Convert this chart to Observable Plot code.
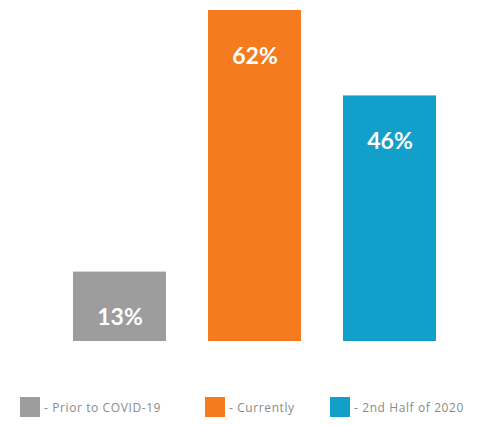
<!DOCTYPE html>
<html>
<head>
<meta charset="utf-8">
<script src="https://cdn.jsdelivr.net/npm/d3@7"></script>
<script src="https://cdn.jsdelivr.net/npm/@observablehq/plot@0.6"></script>
<style>
  html, body { margin: 0; padding: 0; background: #fff; }
  #wrap { position: relative; width: 492px; height: 425px; }
  #legend { position: absolute; left: 0; top: 397px; width: 492px; height: 20px; font-family: "Open Sans", sans-serif; font-size: 12px; letter-spacing: 0.6px; color: #8a8a8a; }
  .item { position: absolute; top: 0; display: flex; align-items: center; height: 20px; white-space: nowrap; }
  .sw { width: 20px; height: 20px; margin-right: 4px; }
</style>
</head>
<body>
<div id="wrap">
  <div id="chart"></div>
  <div id="legend"></div>
</div>
<script>
const categories = ["Prior to COVID-19", "Currently", "2nd Half of 2020"];
const values = [13, 62, 46];
const labels = ["13%", "62%", "46%"];
const colors = ["#9d9d9d", "#f47b20", "#129fca"];
const legendLabels = ["- Prior to COVID-19", "- Currently", "- 2nd Half of 2020"];

const data = categories.map((c, i) => ({category: c, value: values[i], label: labels[i]}));

const plot = Plot.plot({
  width: 492,
  height: 355,
  marginLeft: 29.5,
  marginRight: 13.5,
  marginTop: 10,
  marginBottom: 14,
  x: {domain: categories, padding: 0.314, axis: null},
  y: {domain: [0, 62], axis: null},
  color: {domain: categories, range: colors},
  style: {background: "transparent"},
  marks: [
    Plot.barY(data, {x: "category", y: "value", fill: "category"}),
    Plot.text(data, {x: "category", y: "value", text: "label", dy: 46, fill: "white",
      fontSize: 23, fontWeight: "bold", fontFamily: "Lato, sans-serif", lineAnchor: "middle"})
  ]
});
document.getElementById("chart").appendChild(plot);

const lx = [20, 205, 330];
const legend = document.getElementById("legend");
categories.forEach((c, i) => {
  const item = document.createElement("div");
  item.className = "item";
  item.style.left = lx[i] + "px";
  const sw = document.createElement("div");
  sw.className = "sw";
  sw.style.background = colors[i];
  const t = document.createElement("span");
  t.textContent = legendLabels[i];
  item.appendChild(sw);
  item.appendChild(t);
  legend.appendChild(item);
});
</script>
</body>
</html>
